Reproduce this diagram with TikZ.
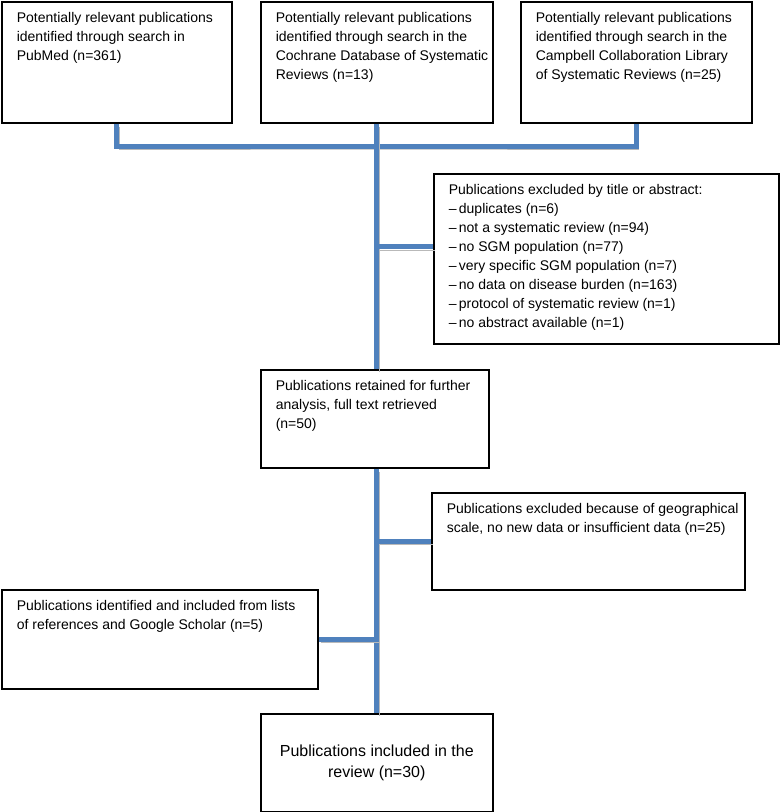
\documentclass[tikz,border=0pt]{standalone}
\usepackage{fontspec}
\setmainfont{Liberation Sans}
\usepackage{xcolor}
\definecolor{linkblue}{RGB}{79,129,189}
\definecolor{shadowgrey}{RGB}{185,185,185}
\tikzset{%
    flowbox/.style={draw, line width=1.6pt, anchor=north west, inner sep=0pt,
        font=\fontsize{14}{19}\selectfont},
    link/.style={draw=linkblue, line width=5pt,
        preaction={draw=shadowgrey, transform canvas={shift={(2pt,-3pt)}}}}
}
\newcommand\flowtext[3]{\parbox[c][#2][t]{#1}{\raggedright\leftskip=15pt\vspace*{7pt}\strut#3}}

\begin{document}
\begin{tikzpicture}[x=1pt,y=-1pt]
    \useasboundingbox (0,0) rectangle (780,812);

    \node[flowbox] (pubmed) at (1,1) {\flowtext{230pt}{121pt}{Potentially relevant publications\\ identified through search in\\ PubMed (n=361)}};
	\node[flowbox] (cochrane) at (260,1) {\flowtext{232pt}{121pt}{Potentially relevant publications\\ identified through search in the\\ Cochrane Database of Systematic\\ Reviews (n=13)}};
	\node[flowbox] (campbell) at (520,1) {\flowtext{231pt}{121pt}{Potentially relevant publications\\ identified through search in the\\ Campbell Collaboration Library\\ of Systematic Reviews (n=25)}};

	\node[flowbox] (excltitle) at (433,173) {\flowtext{345pt}{170pt}{Publications excluded by title or abstract:\\
	–\,duplicates (n=6)\\ –\,not a systematic review (n=94)\\ –\,no SGM population (n=77)\\
	–\,very specific SGM population (n=7)\\ –\,no data on disease burden (n=163)\\
	–\,protocol of systematic review (n=1)\\ –\,no abstract available (n=1)}};

	\node[flowbox] (retained) at (260,369) {\flowtext{228pt}{98pt}{Publications retained for further\\ analysis, full text retrieved\\ (n=50)}};
	\node[flowbox] (exclscale) at (431,492) {\flowtext{313pt}{97pt}{Publications excluded because of geographical\\ scale, no new data or insufficient data (n=25)}};
	\node[flowbox] (extra) at (1,589) {\flowtext{316pt}{99pt}{Publications identified and included from lists\\ of references and Google Scholar (n=5)}};
	\node[flowbox, minimum width=232pt, minimum height=98pt, align=center,
	    font=\fontsize{16}{21}\selectfont] (included) at (260,713) {Publications included in the\\ review (n=30)};

    \coordinate (merge) at (cochrane.south |- 0,146);
	\draw[link] (pubmed.south) |- (merge) -| (campbell.south);
	\draw[link] (cochrane.south) -- (cochrane.south |- retained.north);
	\draw[link] ([yshift=12pt]excltitle.west) -- ([yshift=12pt]excltitle.west -| cochrane.south);
	\draw[link] (cochrane.south |- retained.south) -- (cochrane.south |- included.north);
	\draw[link] (exclscale.west) -- (exclscale.west -| cochrane.south);
	\draw[link] (extra.east) -- (extra.east -| cochrane.south);
\end{tikzpicture}
\end{document}
